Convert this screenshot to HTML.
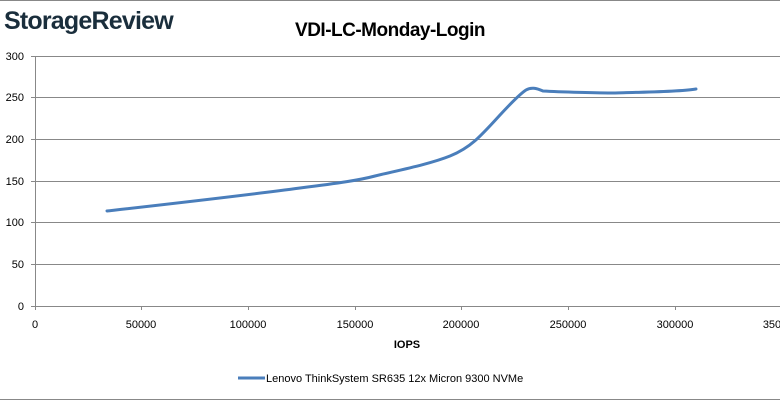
<!DOCTYPE html>
<html><head><style>
body{margin:0;width:780px;height:401px;background:#fff;overflow:hidden}
</style></head><body>
<svg width="780" height="401" xmlns="http://www.w3.org/2000/svg" font-family="Liberation Sans, sans-serif">
<rect x="0" y="0" width="780" height="401" fill="#fff"/>
<line x1="0" y1="0.5" x2="780" y2="0.5" stroke="#888" stroke-width="1"/>
<line x1="0" y1="399.5" x2="780" y2="399.5" stroke="#888" stroke-width="1"/>
<text x="4" y="29" font-size="25" font-weight="bold" fill="#1a2e3c" letter-spacing="-0.8">StorageReview</text>
<text x="390" y="36" font-size="19" font-weight="bold" text-anchor="middle" fill="#000" letter-spacing="-0.5">VDI-LC-Monday-Login</text>
<g stroke="#888" stroke-width="1">
<line x1="31" y1="56.5" x2="780" y2="56.5"/>
<line x1="31" y1="97.5" x2="780" y2="97.5"/>
<line x1="31" y1="139.5" x2="780" y2="139.5"/>
<line x1="31" y1="181.5" x2="780" y2="181.5"/>
<line x1="31" y1="222.5" x2="780" y2="222.5"/>
<line x1="31" y1="264.5" x2="780" y2="264.5"/>
<line x1="31" y1="306.5" x2="780" y2="306.5"/>
<line x1="35.5" y1="56" x2="35.5" y2="310"/>
<line x1="141.5" y1="306" x2="141.5" y2="310"/>
<line x1="248.5" y1="306" x2="248.5" y2="310"/>
<line x1="355.5" y1="306" x2="355.5" y2="310"/>
<line x1="461.5" y1="306" x2="461.5" y2="310"/>
<line x1="568.5" y1="306" x2="568.5" y2="310"/>
<line x1="675.5" y1="306" x2="675.5" y2="310"/>
</g>
<g font-size="11" fill="#000" text-anchor="end">
<text x="24" y="60">300</text><text x="24" y="101">250</text><text x="24" y="143">200</text>
<text x="24" y="185">150</text><text x="24" y="226">100</text><text x="24" y="268">50</text><text x="24" y="310">0</text>
</g>
<g font-size="11" fill="#000" text-anchor="middle">
<text x="35" y="328">0</text><text x="141" y="328">50000</text><text x="248" y="328">100000</text>
<text x="355" y="328">150000</text><text x="461" y="328">200000</text><text x="568" y="328">250000</text>
<text x="675" y="328">300000</text><text x="772" y="328">350</text>
</g>
<text x="407" y="348" font-size="11" font-weight="bold" text-anchor="middle">IOPS</text>
<path d="M107,211 C160,205 240,196 300,188 C340,183 360,180 375,176 C400,170 430,164 450,156 C470,148 480,137 500,115 C512,102 520,94 526,90 C531,87 536,88 543,91 C560,92 600,93 615,93 C640,92 680,92 696,89" fill="none" stroke="#4a7ebb" stroke-width="3" stroke-linecap="round"/>
<line x1="238" y1="378" x2="265" y2="378" stroke="#4a7ebb" stroke-width="3"/>
<text x="266" y="382" font-size="11">Lenovo ThinkSystem SR635 12x Micron 9300 NVMe</text>
</svg>
</body></html>
